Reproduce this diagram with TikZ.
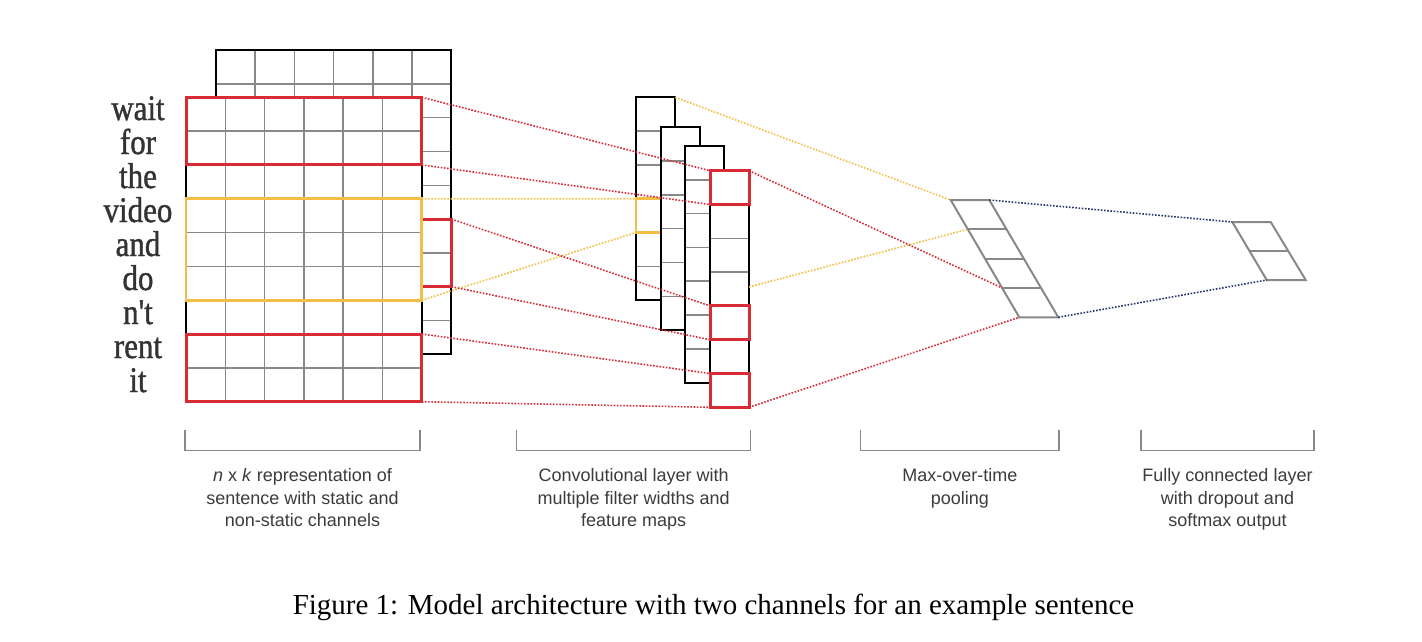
\documentclass[tikz,border=0pt]{standalone}
\usepackage{graphicx}
\usepackage{fontspec}
\usetikzlibrary{calc}
\setmainfont{Liberation Serif}
\newfontfamily\lblfont{Liberation Sans}
\newfontfamily\wordfont[Ligatures=TeXOff,FakeBold=1.2]{Liberation Serif}
\definecolor{cred}{HTML}{D92B36}
\definecolor{cyel}{HTML}{F3BE45}
\definecolor{cnavy}{HTML}{25376A}
\definecolor{cgray}{HTML}{888888}
\definecolor{cword}{HTML}{333333}
\definecolor{clbl}{HTML}{3C3C3C}
\tikzset{
 outer/.style={draw=black, line width=2pt},
 innerl/.style={draw=cgray, line width=1.5pt},
 redbox/.style={draw=cred, line width=3pt},
 yelbox/.style={draw=cyel, line width=2.7pt},
 dotl/.style={line width=1.6pt, dash pattern=on 1.6pt off 1.6pt},
 redline/.style={dotl, draw=cred},
 yelline/.style={dotl, draw=cyel},
 navyline/.style={dotl, draw=cnavy},
 poolshape/.style={draw=cgray, line width=2pt, line join=miter},
 bracket/.style={draw=cgray, line width=1.5pt},
 word/.style={anchor=base, inner sep=0pt, text=cword, font=\wordfont\fontsize{36}{36}\selectfont},
 lbl/.style={anchor=north, align=center, inner sep=0pt, text=clbl, font=\lblfont\fontsize{18}{22.5}\selectfont},
}
\newcommand{\mygrid}[2]{%
  \fill[white] (#1,#2) rectangle ({#1+235.7},{#2+304.4});
  \foreach \i in {1,...,5} \draw[innerl] ({#1+\i*39.28},#2) -- ({#1+\i*39.28},{#2+304.4});
  \foreach \j in {1,...,8} \draw[innerl] (#1,{#2+\j*33.82}) -- ({#1+235.7},{#2+\j*33.82});
  \draw[outer] (#1,#2) rectangle ({#1+235.7},{#2+304.4});
}
\newcommand{\fmap}[3]{%
  \fill[white] (#1,#2) rectangle ({#1+39},{#2+#3*33.8});
  \foreach \j in {1,...,\numexpr#3-1\relax} \draw[innerl] (#1,{#2+\j*33.8}) -- ({#1+39},{#2+\j*33.8});
  \draw[outer] (#1,#2) rectangle ({#1+39},{#2+#3*33.8});
}
\newcommand{\sword}[1]{\scalebox{0.86}[1]{#1}}
\begin{document}
\begin{tikzpicture}[x=1pt,y=-1pt]
\useasboundingbox[fill=white] (0,0) rectangle (1422,642);

% ---- input matrix (two channels) ----
\mygrid{215.7}{50}
\draw[redbox] (215.7,219.1) rectangle (451.4,286.7);
\mygrid{186}{97.3}
\draw[redbox] (186,97.3) rectangle (421.7,164.9);
\draw[yelbox] (186,198.8) rectangle (421.7,300.2);
\draw[redbox] (186,334.0) rectangle (421.7,401.7);

% words
\node[word] (w1) at (138,120) {\sword{wait}};
\node[word] (w2) at (138,154) {\sword{for}};
\node[word] (w3) at (138,188) {\sword{the}};
\node[word] (w4) at (138,222) {\sword{video}};
\node[word] (w5) at (138,256) {\sword{and}};
\node[word] (w6) at (138,290) {\sword{do}};
\node[word] (w7) at (138,324) {\sword{n't}};
\node[word] (w8) at (138,358) {\sword{rent}};
\node[word] (w9) at (138,392) {\sword{it}};

% ---- feature maps ----
\fmap{636}{97.3}{6}
\draw[yelbox] (636,198.7) rectangle (675,232.5);
\fmap{660.7}{127.3}{6}
\fmap{685}{146}{7}
\fmap{710}{170.7}{7}
\draw[redbox] (710,170.7) rectangle (749,204.5);
\draw[redbox] (710,305.9) rectangle (749,339.7);
\draw[redbox] (710,373.5) rectangle (749,407.3);

% ---- pooling ----
\coordinate (p0) at (950.7,200);
\coordinate (ptr) at (989.3,200);
\coordinate (p4) at (1019.3,317.3);
\coordinate (pbr) at (1058.3,317.3);
\draw[poolshape] (p0) -- (ptr) -- (pbr) -- (p4) -- cycle;
\foreach \t in {0.25,0.5,0.75}
  \draw[poolshape] ($(p0)!\t!(p4)$) -- ($(ptr)!\t!(pbr)$);
\coordinate (p1) at ($(p0)!0.25!(p4)$);
\coordinate (p3) at ($(p0)!0.75!(p4)$);

% ---- fully connected ----
\coordinate (ftl) at (1232.3,222);
\coordinate (ftr) at (1270.7,222);
\coordinate (fbl) at (1266.7,280);
\coordinate (fbr) at (1305.7,280);
\draw[poolshape] (ftl) -- (ftr) -- (fbr) -- (fbl) -- cycle;
\draw[poolshape] ($(ftl)!0.5!(fbl)$) -- ($(ftr)!0.5!(fbr)$);

% ---- connector end points ----
\coordinate (g1) at (421.7,97.3);
\coordinate (g2) at (421.7,164.9);
\coordinate (g3) at (421.7,198.8);
\coordinate (g4) at (421.7,300.2);
\coordinate (g5) at (451.4,219.1);
\coordinate (g6) at (451.4,286.7);
\coordinate (g7) at (421.7,334.0);
\coordinate (g8) at (421.7,401.7);
\coordinate (m4a) at (710,170.7);
\coordinate (m4b) at (710,204.5);
\coordinate (m1y1) at (636,198.7);
\coordinate (m1y2) at (636,232.5);
\coordinate (m4c) at (710,305.9);
\coordinate (m4d) at (710,339.7);
\coordinate (m4e) at (710,373.5);
\coordinate (m4f) at (710,407.3);
\coordinate (m1tr) at (675,97.3);
\coordinate (m4y) at (749,287);
\coordinate (m4tr) at (749,170.7);
\coordinate (m4br) at (749,407.3);

% ---- connectors ----
\draw[redline] (g1) -- (m4a);
\draw[redline] (g2) -- (m4b);
\draw[yelline] (g3) -- (m1y1);
\draw[yelline] (g4) -- (m1y2);
\draw[redline] (g5) -- (m4c);
\draw[redline] (g6) -- (m4d);
\draw[redline] (g7) -- (m4e);
\draw[redline] (g8) -- (m4f);
\draw[yelline] (m1tr) -- (p0);
\draw[yelline] (m4y) -- (p1);
\draw[redline] (m4tr) -- (p3);
\draw[redline] (m4br) -- (p4);
\draw[navyline] (ptr) -- (ftl);
\draw[navyline] (pbr) -- (fbl);

% ---- brackets ----
\draw[bracket] (185,430) -- (185,450.7) -- (420,450.7) -- (420,430);
\draw[bracket] (516.7,430) -- (516.7,450.7) -- (750.7,450.7) -- (750.7,430);
\draw[bracket] (860.7,430) -- (860.7,450.7) -- (1059,450.7) -- (1059,430);
\draw[bracket] (1141,430) -- (1141,450.7) -- (1314,450.7) -- (1314,430);

% ---- labels ----
\node[lbl] (l1) at (302.5,468.6) {\textit{n} x \textit{k} representation of\\sentence with static and\\non-static channels};
\node[lbl] (l2) at (633.7,468.6) {Convolutional layer with\\multiple filter widths and\\feature maps};
\node[lbl] (l3) at (959.8,468.6) {Max-over-time\\pooling};
\node[lbl] (l4) at (1227.5,468.6) {Fully connected layer\\with dropout and\\softmax output};

% ---- caption ----
\node[anchor=base, inner sep=0pt, font=\fontsize{29}{30}\selectfont] (cap) at (713.5,614) {Figure 1: Model architecture with two channels for an example sentence};
\end{tikzpicture}
\end{document}
